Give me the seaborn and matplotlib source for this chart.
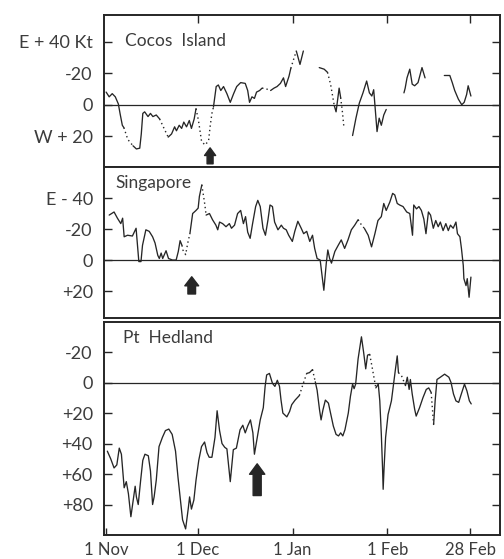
import matplotlib
matplotlib.use("Agg")
import matplotlib.pyplot as plt
import pandas as pd
import seaborn as sns

# Days counted from 1 November; zonal wind in knots (easterly component up).
month_days = [0, 30, 61, 92, 119]
month_labels = ["1 Nov", "1 Dec", "1 Jan", "1 Feb", "28 Feb"]

# ---- Cocos Island -------------------------------------------------------
cocos_observed = [
    [(0, 8), (1, 5), (2, 7), (3, 5), (4, 0.5), (4.6, -6), (5.3, -13), (5.8, -14.5)],
    [(8.8, -26), (9.9, -28), (11, -27.5), (11.5, -18.5), (12, -5.5), (12.6, -4.5),
     (13.7, -7.5), (14.5, -5.5), (15.3, -7.5), (16.4, -6.5), (17.5, -9)],
    [(20.3, -20.5), (21.4, -18.5), (22.4, -14), (23, -16.5), (23.9, -13), (24.7, -15),
     (25.4, -11), (26.3, -14), (27.2, -10), (27.9, -15), (28.8, -9), (29.4, -2.5)],
    [(35.1, -1.5), (36, 11.5), (36.7, 12.5), (37.5, 9), (38.4, 11.5), (39.5, 7),
     (40.6, 1.5), (41.7, 7), (42.7, 11.5), (44, 14), (45.5, 13.5), (46.3, 9),
     (46.9, 1.5), (47.7, 5), (48.5, 4), (49.2, 8), (50.2, 9), (51, 10.5)],
    [(53.8, 9), (54.9, 10.5), (55.9, 11.5), (57, 13.5), (58, 17), (58.7, 11.5),
     (59.8, 18), (60.4, 23)],
    [(62.2, 34), (63.4, 25.5), (64.5, 34)],
    [(69.7, 23.5), (71.3, 22.5), (72.4, 20.5)],
    [(74.6, -0.5), (75.2, -4.5), (76.2, 10.5), (76.7, 4.5)],
    [(80.6, -19.5), (81.7, -8.5), (82.8, 1), (84, 7.5), (85.2, 15), (86.1, 7.5),
     (86.9, 5.5), (87.5, 9.5), (87.9, 0), (88.6, -17), (89.3, -8.5), (90, -13),
     (90.8, -6.5), (91.6, -3)],
    [(97.4, 7.5), (97.8, 10.5), (98.4, 17), (99.3, 22.5), (100.1, 13), (100.9, 12),
     (102, 14), (103.3, 23.5), (104.3, 17)],
    [(110.6, 18.5), (112.4, 18.5), (113.2, 14), (114, 9), (115.2, 3.5), (116.3, 0),
     (117.1, 1.5), (117.9, 6.5), (118.4, 12), (119.3, 5.5)],
]
cocos_estimated = [
    [(5.8, -14.5), (7.1, -22), (8.8, -26)],
    [(17.5, -9), (18.7, -14), (20.3, -20.5)],
    [(29.4, -2.5), (30.2, -10), (31.2, -23), (32.3, -25.5), (33.5, -23), (34, -14),
     (34.6, -5.5), (35.1, -1.5)],
    [(51, 10.5), (52.4, 10), (53.8, 9)],
    [(60.4, 23), (61.2, 28), (62.2, 34)],
    [(72.4, 20.5), (73.4, 13), (74.6, -0.5)],
    [(76.7, 4.5), (77.3, -5), (77.8, -15)],
]

# ---- Singapore -----------------------------------------------------------
singapore_observed = [
    [(1, 29), (2.6, 31), (3.7, 27), (4.8, 23.5), (5.4, 27), (5.9, 15), (7, 16),
     (8.6, 15.5), (9.8, 20.5), (10.7, -1), (11.4, -1), (11.9, 9.5), (13, 19.5),
     (14.1, 18.5), (15.2, 15), (16, 11), (16.9, 3), (17.4, 1), (18, 4.5), (18.5, 1),
     (19.6, 6), (20.4, 1), (21.7, 0), (22.9, 0), (23.6, 5.5), (24.2, 12.5), (24.8, 9.5)],
    [(27.4, 17), (28.3, 30), (29.4, 32), (30.1, 33.5), (30.5, 41), (31.3, 48.5)],
    [(32.7, 29), (33.8, 30), (34.8, 26), (35.9, 22.5), (36.5, 19.5), (37.1, 24.5),
     (38.1, 23.5), (39.2, 21.5), (40.3, 23.5), (41, 20.5), (42, 22.5), (43, 30),
     (44, 32), (44.9, 23.5), (45.6, 28), (46.3, 18), (47.1, 14), (47.9, 23.5),
     (48.9, 34.5), (49.6, 38.5), (50.4, 34.5), (51.3, 20.5), (52.1, 16), (52.9, 25.5),
     (53.6, 35.5), (54.4, 34.5), (55.1, 24.5), (56.2, 19.5), (57.3, 22.5), (58, 20.5),
     (58.9, 19.5), (59.7, 16), (60.9, 12), (61.7, 18.5), (62.7, 25), (63.8, 20.5),
     (64.6, 17), (65.6, 18.5), (66.6, 12), (67.5, 16), (68.2, 7.5), (69, 1), (70, 0),
     (71.2, -19.5), (72, -2), (72.5, 6.5), (73.1, 1), (73.7, -2), (74.8, 5.5),
     (75.9, 9.5), (76.9, 13), (78, 7.5), (79.1, 13), (80.2, 19.5), (81.3, 22.5),
     (82.4, 26)],
    [(84.5, 20.3), (85.7, 16), (86.8, 8.5), (87.9, 17), (88.9, 25.5), (90, 28),
     (90.8, 36.5), (91.6, 32), (92.8, 37.5), (93.7, 43), (94.4, 42), (95.2, 36.5),
     (96, 35.5), (97.1, 34.5), (98.3, 31), (99.3, 30), (100.2, 16), (100.6, 35.5),
     (101.5, 33), (102.3, 34.5), (103.1, 32), (103.9, 26.5), (104.6, 17), (105.4, 31),
     (106.1, 29), (107, 20.5), (107.8, 25.5), (108.6, 21.5), (109.3, 24.5), (110.2, 19),
     (111.1, 23.5), (111.9, 19), (112.6, 22.5), (113.5, 20.5), (114.4, 24.5), (114.9, 17),
     (115.7, 15), (116.2, 7.5), (116.8, -3.5), (117, -12), (117.7, -16.5), (118.1, -12),
     (118.7, -24), (119.3, -11)],
]
singapore_estimated = [
    [(24.8, 9.5), (25.1, 6.5), (26, 3.5), (26.7, 11), (27.4, 17)],
    [(31.3, 48.5), (31.8, 42), (32.3, 35.5), (32.7, 29)],
    [(82.4, 26), (83.4, 23), (84.5, 20.3)],
]

# ---- Port Hedland --------------------------------------------------------
hedland_observed = [
    [(0.4, -45), (1.5, -50), (2.6, -56), (3.5, -54), (4.3, -43), (5, -47), (5.9, -69),
     (6.6, -65), (7.3, -73), (8.1, -88), (8.8, -78), (9.5, -68), (9.9, -75), (10.5, -80),
     (11.3, -64), (12, -51), (12.7, -47), (13.8, -48), (14.5, -58), (15.2, -80),
     (15.7, -75), (16.4, -64), (17.3, -42), (18.4, -36), (19.4, -31.5), (20.5, -30.5),
     (21.6, -34), (22.7, -45), (23.5, -62), (24.3, -77), (25, -90), (26, -96),
     (26.9, -82), (27.3, -75), (27.9, -83), (28.7, -77), (29.4, -64), (30.3, -51),
     (31.2, -42), (32.2, -39), (33, -46), (33.7, -49), (34.6, -49), (35.6, -36),
     (36.3, -18.5), (37.1, -31.5), (37.9, -40), (38.8, -42.5), (39.5, -43.5),
     (40.6, -65), (41.6, -44), (42.6, -43), (43.8, -31), (44.7, -28), (45.5, -33),
     (46.3, -28.5), (47.2, -24.5), (48, -33), (48.5, -47), (49.3, -37.5), (50.4, -24.5),
     (51.4, -16.5), (52, -2.5), (52.5, 5), (53.4, 6), (54.4, -0.5), (55.2, -2.5),
     (56, 1.5), (56.7, -2.5), (57.2, -11.5), (57.8, -20), (59.1, -22.5), (60, -19),
     (60.7, -14.5), (61.8, -11.5), (63.2, -8.5)],
    [(65.6, 6), (66.5, 6.5), (67.5, 8.5)],
    [(68.4, 0.5), (69, -5), (69.8, -18), (70.3, -24.5), (70.9, -18), (71.7, -11.5),
     (72.7, -13.5), (73.5, -21), (74.3, -28.5), (75.2, -34), (76, -35), (76.7, -33),
     (77.4, -35), (78.1, -31), (79.2, -20), (79.9, -9), (80.6, -1), (81.1, -4),
     (81.6, -1), (82.4, 15.5), (83.5, 30), (84.2, 20), (84.9, 9), (85.5, 18), (86.2, 18.5)],
    [(88.2, -3.5), (89, -1), (89.5, -12), (90, -34), (90.4, -56), (90.6, -70),
     (90.9, -56), (91.4, -36), (92.2, -21), (93.3, -12), (94, -1), (94.7, 10),
     (95.2, 17.5), (95.6, 6.5)],
    [(97.9, -2), (98.5, 3.5), (99.1, -4.5), (99.5, 2), (100.1, -7.5), (100.9, -17.5),
     (101.4, -22), (102.5, -16.5), (103.6, -10), (104.7, -4.5), (105.5, -3.5), (106.3, -6.5)],
    [(107.1, -27.5), (107.6, -12), (108.2, 2), (109.3, 3.5), (110.7, 5.5), (112.1, 3.5),
     (112.8, 0), (113.6, -7.5), (114.4, -12), (115.3, -13), (116, -8.5), (117.2, -1),
     (118, -5.5), (118.8, -12), (119.4, -14)],
]
hedland_estimated = [
    [(63.2, -8.5), (64.4, -1), (65.6, 6)],
    [(67.5, 8.5), (68, 4), (68.4, 0.5)],
    [(86.2, 18.5), (87, 10), (88.2, -3.5)],
    [(95.6, 6.5), (96.6, 4.5), (97.9, -2)],
    [(106.3, -6.5), (106.7, -17), (107.1, -27.5)],
]

# Day of monsoon onset marked with an arrow under each trace.
onset_days = [34, 28, 49.4]

station_names = ["Cocos  Island", "Singapore", "Pt  Hedland"]
ytick_values = [[40, 20, 0, -20], [40, 20, 0, -20], [20, 0, -20, -40, -60, -80]]
ytick_labels = [["E + 40 Kt", "-20", "0", "W + 20"],
                ["E - 40", "-20", "0", "+20"],
                ["-20", "0", "+20", "+40", "+60", "+80"]]


def to_frame(segments, tag):
    rows = []
    for k, seg in enumerate(segments):
        for d, v in seg:
            rows.append({"day": d, "kt": v, "seg": f"{tag}{k}"})
    return pd.DataFrame(rows)


sns.set_theme(style="white")
plt.rcParams["font.family"] = ["Lato", "DejaVu Sans"]
plt.rcParams["font.weight"] = "normal"
INK = "#262626"
TEXT = "#3c3c3c"

fig = plt.figure(figsize=(5.04, 5.59), dpi=100)
fig.patch.set_facecolor("white")
left, width = 0.2063, 0.7857
axes = [
    fig.add_axes([left, 0.7013, width, 0.2719]),
    fig.add_axes([left, 0.4311, width, 0.2701]),
    fig.add_axes([left, 0.0429, width, 0.3810]),
]
ylims = [(-39.4, 56.8), (-37.4, 60), (-100, 39.7)]
name_pos = [(0.053, 0.83), (0.03, 0.895), (0.048, 0.925)]
arrow_spans = [(-27.3, -37.4), (-10.8, -21.9), (-53.3, -74.1)]
arrow_styles = [
    "simple,head_length=5.5,head_width=8,tail_width=4.3",
    "simple,head_length=6.5,head_width=10,tail_width=5.5",
    "simple,head_length=7.5,head_width=11,tail_width=5.8",
]

stations = [
    (cocos_observed, cocos_estimated),
    (singapore_observed, singapore_estimated),
    (hedland_observed, hedland_estimated),
]

for i, (ax, (obs, est)) in enumerate(zip(axes, stations)):
    ax.set_facecolor("white")
    ax.axhline(0, color=INK, lw=0.9, zorder=1)
    sns.lineplot(data=to_frame(obs, "o"), x="day", y="kt", units="seg",
                 estimator=None, sort=False, color=INK, lw=0.95, legend=False, ax=ax)
    sns.lineplot(data=to_frame(est, "e"), x="day", y="kt", units="seg",
                 estimator=None, sort=False, color=INK, lw=1.0,
                 linestyle=(0, (1, 2.2)), legend=False, ax=ax)

    tip, base = arrow_spans[i]
    ax.annotate("", xy=(onset_days[i], tip), xytext=(onset_days[i], base),
                arrowprops=dict(arrowstyle=arrow_styles[i], mutation_scale=1,
                                color=INK, shrinkA=0, shrinkB=0))

    ax.text(*name_pos[i], station_names[i], transform=ax.transAxes,
            fontsize=12.5, color=TEXT, va="center", ha="left")

    ax.set_xlim(-0.7, 128.8)
    ax.set_ylim(*ylims[i])
    ax.set_xlabel("")
    ax.set_ylabel("")
    ax.set_yticks(ytick_values[i], ytick_labels[i])
    ax.tick_params(axis="y", direction="in", left=True, right=True, length=6,
                   width=1.0, color=INK, labelcolor=TEXT, labelsize=13, pad=8)
    for s in ax.spines.values():
        s.set_visible(True)
        s.set_color(INK)
        s.set_linewidth(1.4)

# month ticks: along the top of the first panel and the bottom of the last
axes[0].set_xticks(month_days[1:])
axes[0].tick_params(axis="x", direction="in", top=True, bottom=False,
                    labeltop=False, labelbottom=False, length=6, width=1.0, color=INK)
axes[1].set_xticks([])
axes[2].set_xticks(month_days, month_labels)
axes[2].tick_params(axis="x", direction="in", bottom=True, top=False, length=5,
                    width=1.0, color=INK, labelcolor=TEXT, labelsize=12, pad=5)

fig.savefig("out.png", dpi=100, facecolor="white")
